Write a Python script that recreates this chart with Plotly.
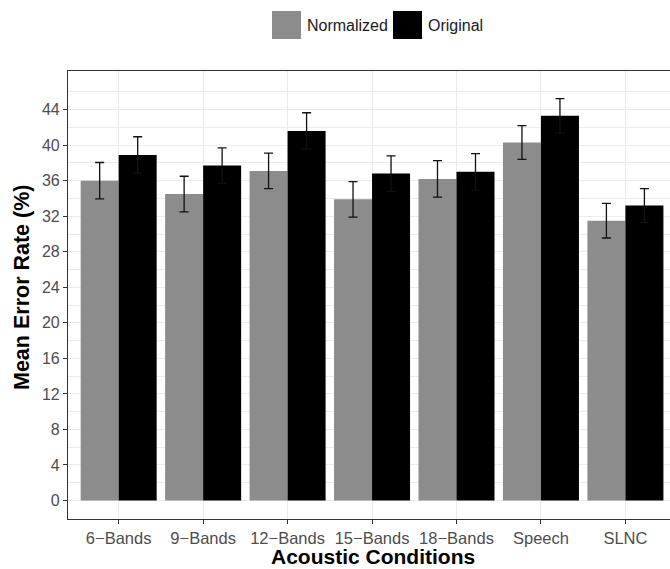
import plotly.graph_objects as go

categories = ["6\u2212Bands", "9\u2212Bands", "12\u2212Bands", "15\u2212Bands", "18\u2212Bands", "Speech", "SLNC"]
normalized = [36.0, 34.5, 37.1, 33.9, 36.2, 40.3, 31.5]
original = [38.9, 37.7, 41.6, 36.8, 37.0, 43.3, 33.2]
normalized_err = [2.05, 2.0, 2.0, 2.0, 2.05, 1.9, 1.95]
original_err = [2.05, 2.0, 2.05, 2.0, 2.05, 1.95, 1.9]
y_ticks = [0, 4, 8, 12, 16, 20, 24, 28, 32, 36, 40, 44]
series_names = ["Normalized", "Original"]
series_colors = ["#8C8C8C", "#000000"]

W, H = 670, 569
ML, MT, MB, MR = 68, 71, 50, 0
FONT = "Liberation Sans, Arial, Helvetica, sans-serif"

fig = go.Figure()
for name, vals, errs, col in zip(series_names, [normalized, original],
                                  [normalized_err, original_err], series_colors):
    fig.add_trace(go.Bar(
        x=categories, y=vals, name=name, marker=dict(color=col, line=dict(width=0)),
        error_y=dict(type="data", array=errs, visible=True, color="#111111",
                     thickness=1.3, width=4.5),
        showlegend=False,
    ))

fig.update_layout(
    width=W, height=H,
    margin=dict(l=ML, r=MR, t=MT, b=MB),
    paper_bgcolor="white", plot_bgcolor="white",
    barmode="group", bargap=0.1, bargroupgap=0,
    font=dict(family=FONT),
    showlegend=False,
)
fig.update_xaxes(
    type="category", range=[-0.6, 6.528],
    showgrid=True, gridcolor="#EBEBEB", gridwidth=1.07,
    showline=True, linecolor="#333333", linewidth=1.1, mirror=True,
    ticks="outside", ticklen=4, tickcolor="#333333", tickwidth=1.1,
    tickfont=dict(size=16.5, color="#4D4D4D", family=FONT),
    zeroline=False,
)
fig.update_yaxes(
    range=[-2.08, 48.35], tickmode="array", tickvals=y_ticks,
    showgrid=True, gridcolor="#EBEBEB", gridwidth=1.07,
    minor=dict(tickmode="array", tickvals=[t + 2 for t in y_ticks] + [46],
               showgrid=True, gridcolor="#EBEBEB", gridwidth=0.55),
    showline=True, linecolor="#333333", linewidth=1.1, mirror=False,
    ticks="outside", ticklen=4, tickcolor="#333333", tickwidth=1.1,
    tickfont=dict(size=16, color="#4D4D4D", family=FONT),
    zeroline=False,
)

pw = W - ML - MR
ph = H - MT - MB
def px(x):
    return (x - ML) / pw
def py(y):
    return (H - MB - y) / ph

# axis titles
fig.add_annotation(xref="paper", yref="paper", x=px(373), y=py(569),
                   text="Acoustic Conditions", showarrow=False,
                   xanchor="center", yanchor="bottom", borderpad=0,
                   font=dict(size=21, color="black", family=FONT, weight="bold"))
fig.add_annotation(xref="paper", yref="paper", x=px(22), y=py(287),
                   text="Mean Error Rate (%)", showarrow=False, textangle=-90,
                   xanchor="center", yanchor="middle",
                   font=dict(size=21.5, color="black", family=FONT, weight="bold"))

# manual legend
legend_items = [(272, 301, 305), (393, 422, 426)]
for (x0, x1, tx), name, col in zip(legend_items, series_names, series_colors):
    fig.add_shape(type="rect", xref="paper", yref="paper",
                  x0=px(x0), x1=px(x1), y0=py(39), y1=py(11),
                  fillcolor=col, line=dict(width=0))
    fig.add_annotation(xref="paper", yref="paper", x=px(tx), y=py(25),
                       text=name, showarrow=False, xanchor="left", yanchor="middle",
                       font=dict(size=16, color="#1A1A1A", family=FONT))

fig.write_html("out.html")
